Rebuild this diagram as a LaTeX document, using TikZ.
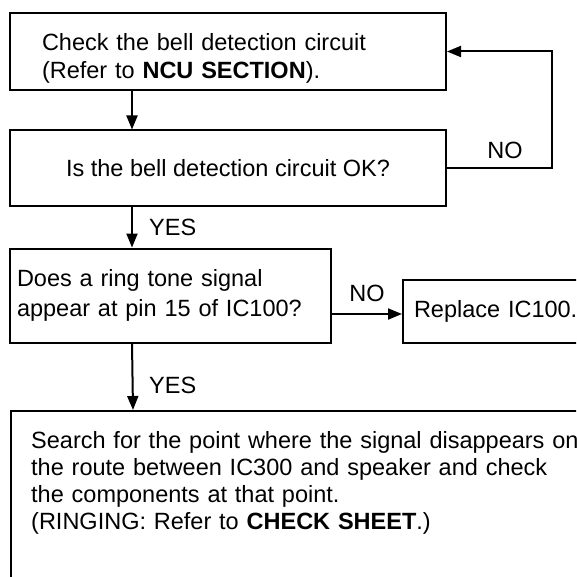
\documentclass[tikz,border=0pt]{standalone}
\usepackage{fontspec}
\setmainfont{Liberation Sans}
\usetikzlibrary{arrows.meta,calc}
\begin{document}
\begin{tikzpicture}[x=1pt,y=-1pt,
  box/.style={draw=black,line width=2pt,rectangle,inner sep=0pt,
    font=\fontsize{23.5}{27}\selectfont},
  lbl/.style={inner sep=0pt,font=\fontsize{23.5}{27}\selectfont},
  arr/.style={line width=2pt,-{Triangle[length=14pt,width=11pt]}},
  ln/.style={line width=2pt}]
\useasboundingbox (0,0) rectangle (576,577);
\clip (0,0) rectangle (576,577);
% boxes
\node[box,minimum width=436pt,minimum height=77pt,text width=372pt,inner xsep=32pt,align=left,
  font=\fontsize{23.5}{28}\selectfont]
  (b1) at (228,51.5) {\rule{0pt}{31pt}Check the bell detection circuit\\(Refer to \textbf{NCU SECTION}).};
\node[box,minimum width=436pt,minimum height=75pt,align=center]
  (b2) at (228,168) {Is the bell detection circuit OK?};
\node[box,minimum width=321pt,minimum height=94pt,text width=307pt,inner xsep=7pt,align=left,
  font=\fontsize{23.5}{30}\selectfont]
  (b3) at (170.5,295.5) {Does a ring tone signal\\appear at pin 15 of IC100?};
\node[box,anchor=west,minimum width=220pt,minimum height=63pt,inner xsep=11pt,text width=198pt,align=left]
  (b4) at (402,311.5) {Replace IC100.};
\node[box,anchor=north west,minimum width=600pt,minimum height=200pt] (b5) at (10,410) {};
\node[lbl,anchor=north west,text width=560pt,align=left]
  (t5) at ([xshift=21pt,yshift=-21pt]b5.north west)
  {Search for the point where the signal disappears on\\
   the route between IC300 and speaker and check\\
   the components at that point.\\
   (RINGING: Refer to \textbf{CHECK SHEET}.)};
% connectors
\draw[arr] ([xshift=123pt]b1.south west) -- ([xshift=123pt]b2.north west);
\draw[arr] (b2.east) -- ++(105,0) |- (b1.east);
\node[lbl] (no1) at (505,150) {NO};
\draw[arr] ([xshift=123pt]b2.south west) -- ([xshift=123pt]b3.north west);
\node[lbl,anchor=west] (yes1) at (149,227) {YES};
\draw[arr] ([yshift=-18.5pt]b3.east) -- ([yshift=-18.5pt]b3.east -| b4.west);
\node[lbl] (no2) at (367,293) {NO};
\draw[arr] ([xshift=123pt]b3.south west) -- ([xshift=123pt]b5.north west);
\node[lbl,anchor=west] (yes2) at (149,385) {YES};
\end{tikzpicture}
\end{document}
